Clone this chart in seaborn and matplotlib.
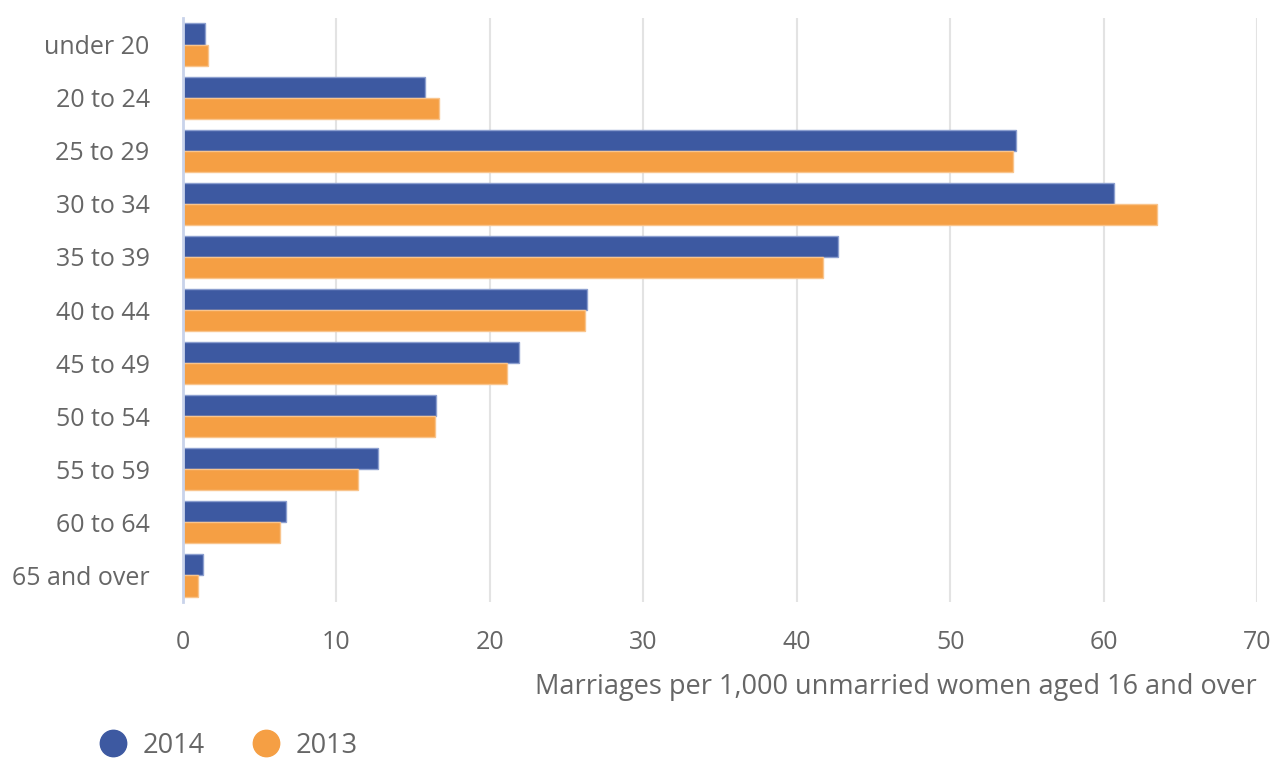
import numpy as np
import pandas as pd
import seaborn as sns
import matplotlib.pyplot as plt
from matplotlib.lines import Line2D
from matplotlib.ticker import FixedLocator

# values
age_groups = ['under 20', '20 to 24', '25 to 29', '30 to 34', '35 to 39', '40 to 44',
              '45 to 49', '50 to 54', '55 to 59', '60 to 64', '65 and over']
rate_2014 = [1.4, 15.8, 54.3, 60.7, 42.7, 26.3, 21.9, 16.5, 12.7, 6.7, 1.3]
rate_2013 = [1.6, 16.7, 54.1, 63.5, 41.7, 26.2, 21.1, 16.4, 11.4, 6.3, 1.0]
years = ['2014', '2013']

blue = '#3d59a1'
orange = '#f59f44'
edge = {'2014': '#8c9fcf', '2013': '#f9c48c'}
text_grey = '#666666'

df = pd.DataFrame({
    'age': age_groups * 2,
    'rate': rate_2014 + rate_2013,
    'year': ['2014'] * len(age_groups) + ['2013'] * len(age_groups),
})

sns.set_style('white')
plt.rcParams['font.family'] = ['Open Sans', 'DejaVu Sans']

fig = plt.figure(figsize=(12.71, 7.58), dpi=100)
ax = fig.add_axes([0.144, 0.206, 0.845, 0.770])

sns.barplot(data=df, x='rate', y='age', hue='year', hue_order=years,
            order=age_groups, palette=[blue, orange], orient='h',
            width=0.8, ax=ax, legend=False, linewidth=1.0, saturation=1)

# lighter outline on every bar, like the source
for container, yr in zip(ax.containers, years):
    for bar in container:
        bar.set_edgecolor(edge[yr])

ax.set_xlim(0, 70)
ax.set_ylim(len(age_groups) - 0.5, -0.5)
ax.set_xticks(np.arange(0, 71, 10))
ax.grid(axis='x', color='#e3e3e3', linewidth=1.5)
ax.set_axisbelow(True)

for side in ['top', 'right', 'bottom']:
    ax.spines[side].set_visible(False)
ax.spines['left'].set_color('#c9d3ea')
ax.spines['left'].set_linewidth(2)

# category separators as minor ticks on the left axis
ax.yaxis.set_minor_locator(FixedLocator(np.arange(-0.5, len(age_groups), 1)))
ax.tick_params(axis='y', which='minor', length=17, width=2, color='#c9d3ea')
ax.tick_params(axis='y', which='major', length=0, pad=24, labelsize=18,
               labelcolor=text_grey)
ax.tick_params(axis='x', length=0, pad=20, labelsize=18, labelcolor=text_grey)

ax.set_ylabel('')
ax.set_xlabel('Marriages per 1,000 unmarried women aged 16 and over',
              fontsize=19.5, color=text_grey)
ax.xaxis.set_label_coords(1.0, -0.122)
ax.xaxis.label.set_horizontalalignment('right')

handles = [Line2D([], [], marker='o', linestyle='', markersize=19,
                  markerfacecolor=c, markeredgecolor=c) for c in [blue, orange]]
fig.legend(handles, years, loc='center left', bbox_to_anchor=(0.059, 0.016),
           ncol=2, frameon=False, fontsize=19.5, labelcolor=text_grey,
           handletextpad=0.1, columnspacing=1.27, borderaxespad=0)

fig.savefig('out.png', dpi=100)
plt.close()
